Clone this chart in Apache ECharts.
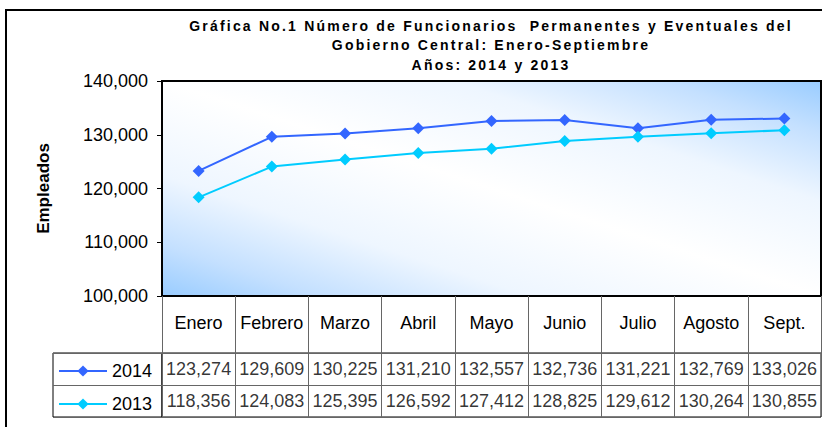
<!DOCTYPE html>
<html>
<head>
<meta charset="utf-8">
<script src="https://cdn.jsdelivr.net/npm/echarts@6/dist/echarts.min.js"></script>
<style>html,body{margin:0;padding:0;background:#fff}#c{width:822px;height:427px}</style>
</head>
<body>
<div id="c"></div>
<script>
const months = ['Enero','Febrero','Marzo','Abril','Mayo','Junio','Julio','Agosto','Sept.'];
const serie2014 = [123274,129609,130225,131210,132557,132736,131221,132769,133026];
const serie2013 = [118356,124083,125395,126592,127412,128825,129612,130264,130855];
const yearNames = ['2014','2013'];
const yTicks = {min:100000, max:140000, step:10000};
const titleLines = ['Gráfica No.1 Número de Funcionarios  Permanentes y Eventuales del','Gobierno Central: Enero-Septiembre','Años: 2014 y 2013'];

const FONT = '"Liberation Sans", Arial, sans-serif';
const fmt = v => String(Math.round(v)).replace(/\B(?=(\d{3})+(?!\d))/g, ',');

const tableData = [];
months.forEach((m,i)=>{
  tableData.push([m, yearNames[0], serie2014[i]]);
  tableData.push([m, yearNames[1], serie2013[i]]);
});

const chart = echarts.init(document.getElementById('c'), null, {renderer:'svg'});
chart.setOption({
  animation:false,
  backgroundColor:'#fff',
  textStyle:{fontFamily:FONT},
  title:{
    text:titleLines.join('\n'), left:491, top:16, padding:0, textAlign:'center',
    textStyle:{fontFamily:FONT, fontSize:14, fontWeight:'bold', color:'#000', lineHeight:19.5}
  },
  graphic:[{
    type:'rect', z:-10, silent:true,
    shape:{x:6, y:10, width:840, height:460},
    style:{fill:'none', stroke:'#000', lineWidth:2}
  }],
  legend:[
    {data:[yearNames[0]], orient:'vertical', left:58, top:362, itemWidth:48, itemHeight:14, itemGap:5, padding:0,
     textStyle:{fontFamily:FONT, fontSize:18, color:'#000'}, selectedMode:false},
    {data:[yearNames[1]], orient:'vertical', left:58, top:395, itemWidth:48, itemHeight:14, itemGap:5, padding:0,
     textStyle:{fontFamily:FONT, fontSize:18, color:'#000'}, selectedMode:false}
  ],
  grid:[
    {left:162, top:81, width:659, height:215, show:true, borderColor:'#000', borderWidth:2,
     backgroundColor:{type:'linear', x:0, y:1, x2:1, y2:0,
       colorStops:[
         {offset:0,color:'#99ccff'},{offset:0.12,color:'#c4e0ff'},{offset:0.28,color:'#eef6ff'},
         {offset:0.5,color:'#ffffff'},
         {offset:0.72,color:'#eef6ff'},{offset:0.88,color:'#c4e0ff'},{offset:1,color:'#99ccff'}]}},
    {left:162, top:353, width:659, height:64, show:true, borderColor:'#000', borderWidth:1, backgroundColor:'transparent'},
    {left:53, top:353, width:109, height:64, show:true, borderColor:'#000', borderWidth:1, backgroundColor:'transparent'}
  ],
  xAxis:[
    {gridIndex:0, type:'category', data:months, boundaryGap:true,
     axisLine:{show:true, lineStyle:{color:'#000', width:1.5}},
     axisTick:{show:true, length:121, lineStyle:{color:'#666', width:1}},
     axisLabel:{show:true, margin:18, fontSize:18, color:'#000', fontFamily:FONT, interval:0},
     splitLine:{show:false}},
    {gridIndex:1, type:'category', data:months, boundaryGap:true, show:false},
    {gridIndex:2, type:'category', data:[''], show:false}
  ],
  yAxis:[
    {gridIndex:0, type:'value', min:yTicks.min, max:yTicks.max, interval:yTicks.step,
     name:'Empleados', nameLocation:'middle', nameRotate:90, nameGap:110,
     nameTextStyle:{fontFamily:FONT, fontSize:17, fontWeight:'bold', color:'#000'},
     axisLine:{show:true, lineStyle:{color:'#000', width:1.5}},
     axisTick:{show:true, length:5, lineStyle:{color:'#000'}},
     axisLabel:{margin:14, fontSize:18, color:'#000', fontFamily:FONT, formatter:v=>fmt(v)},
     splitLine:{show:false}},
    {gridIndex:1, type:'category', data:yearNames, inverse:true, boundaryGap:true,
     axisLine:{show:false}, axisTick:{show:false}, axisLabel:{show:false},
     splitLine:{show:true, lineStyle:{color:'#666', width:1}}},
    {gridIndex:2, type:'category', data:yearNames, inverse:true, boundaryGap:true,
     axisLine:{show:false}, axisTick:{show:false}, axisLabel:{show:false},
     splitLine:{show:true, lineStyle:{color:'#666', width:1}}}
  ],
  series:[
    {name:yearNames[0], type:'line', xAxisIndex:0, yAxisIndex:0, data:serie2014,
     symbol:'diamond', symbolSize:12, color:'#3366ff',
     lineStyle:{color:'#3366ff', width:2}, itemStyle:{color:'#3366ff'}},
    {name:yearNames[1], type:'line', xAxisIndex:0, yAxisIndex:0, data:serie2013,
     symbol:'diamond', symbolSize:12, color:'#00ccff',
     lineStyle:{color:'#00ccff', width:2}, itemStyle:{color:'#00ccff'}},
    {name:'tabla', type:'scatter', xAxisIndex:1, yAxisIndex:1, data:tableData,
     symbolSize:1, itemStyle:{color:'rgba(0,0,0,0)'}, silent:true,
     label:{show:true, position:'inside', formatter:p=>fmt(p.value[2]), fontSize:18, color:'#000', fontFamily:FONT}}
  ]
});

function spaceTitle(){
  const set = new Set(titleLines);
  document.querySelectorAll('#c svg text').forEach(t=>{
    if (set.has(t.textContent)) { t.style.letterSpacing = '2.2px'; }
  });
}
chart.on('finished', spaceTitle);
spaceTitle();
setTimeout(spaceTitle, 50);
</script>
</body>
</html>
